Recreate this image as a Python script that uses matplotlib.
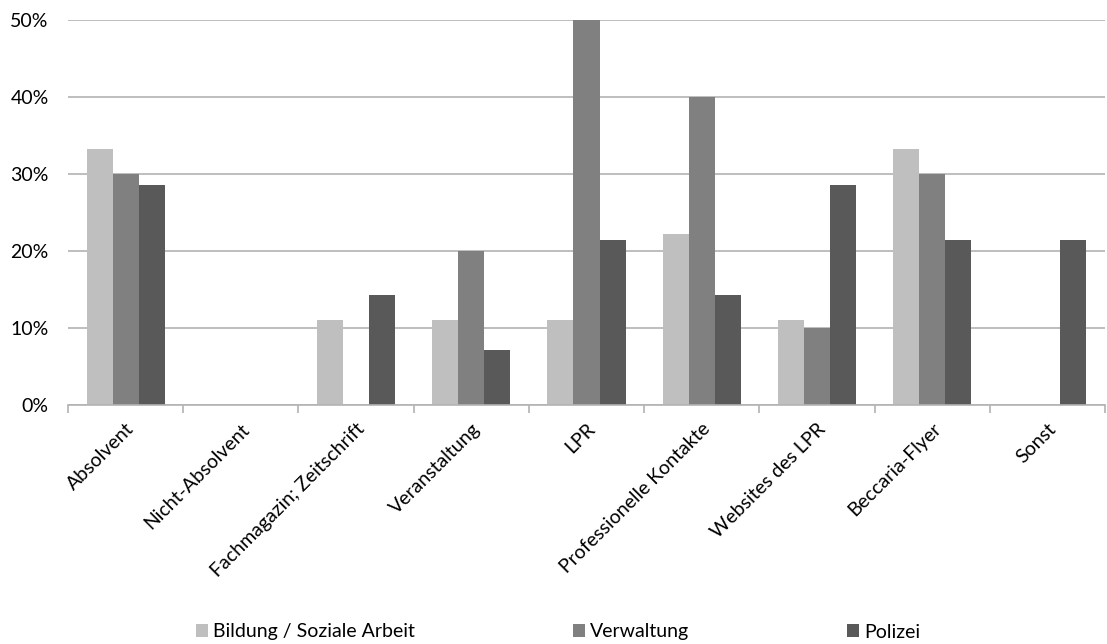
import numpy as np
import matplotlib.pyplot as plt
from matplotlib.ticker import PercentFormatter

plt.rcParams['font.family'] = ['Lato', 'DejaVu Sans']

kategorien = ['Absolvent', 'Nicht-Absolvent', 'Fachmagazin; Zeitschrift', 'Veranstaltung',
              'LPR', 'Professionelle Kontakte', 'Websites des LPR', 'Beccaria-Flyer', 'Sonst']
bildung = [33.3, 0, 11.1, 11.1, 11.1, 22.2, 11.1, 33.3, 0]
verwaltung = [30.0, 0, 0, 20.0, 50.0, 40.0, 10.0, 30.0, 0]
polizei = [28.6, 0, 14.3, 7.1, 21.4, 14.3, 28.6, 21.4, 21.4]

serien = ['Bildung / Soziale Arbeit', 'Verwaltung', 'Polizei']
farben = ['#bfbfbf', '#808080', '#595959']

fs = 14

fig = plt.figure(figsize=(11.07, 6.44), dpi=100)
ax = fig.add_axes([68/1107, 1-405/644, (1105-68)/1107, 385/644])

x = np.arange(len(kategorien))
b = 0.226
for i, (werte, name) in enumerate(zip([bildung, verwaltung, polizei], serien)):
    ax.bar(x + (i-1)*b, werte, b, color=farben[i], label=name, zorder=3)

ax.set_xlim(-0.5, len(kategorien)-0.5)
ax.set_ylim(0, 50)
ax.set_yticks([0, 10, 20, 30, 40, 50])
ax.yaxis.set_major_formatter(PercentFormatter(decimals=0))
ax.grid(axis='y', color='#b3b3b3', linewidth=1.2, zorder=0)
for s in ['top', 'right', 'left']:
    ax.spines[s].set_visible(False)
ax.spines['bottom'].set_color('#b3b3b3')
ax.spines['bottom'].set_linewidth(1.2)
ax.spines['bottom'].set_zorder(4)

# Trennstriche zwischen den Kategorien
ax.set_xticks(np.arange(-0.5, len(kategorien)))
ax.set_xticklabels([])
ax.tick_params(axis='x', which='major', length=5.5, color='#b3b3b3', width=1.2)
ax.set_xticks(x, minor=True)
ax.set_xticklabels(kategorien, minor=True, rotation=45, ha='right', va='top',
                   rotation_mode='anchor', fontsize=fs, color='#000000')
ax.tick_params(axis='x', which='minor', length=0, pad=11)
ax.tick_params(axis='y', length=0, labelsize=fs, pad=14)

fig.legend(loc='center', bbox_to_anchor=(0.504, 1-632/644), ncol=3, frameon=False,
           fontsize=fs, handlelength=0.63, handleheight=0.63, handletextpad=0.26,
           columnspacing=8.1)

fig.savefig('out.png', dpi=100)
